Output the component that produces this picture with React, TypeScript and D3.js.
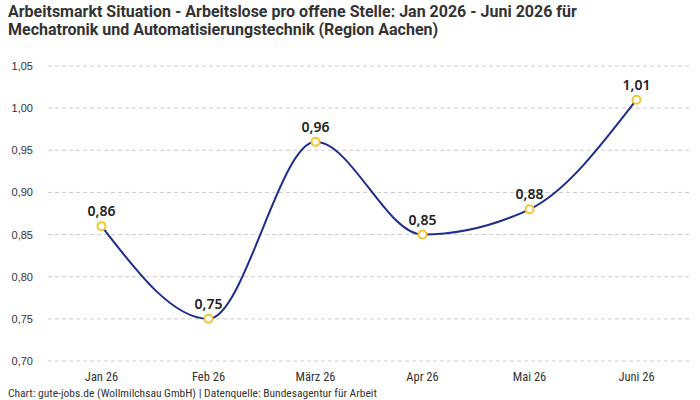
import React, { useEffect, useRef } from 'react';
import * as d3 from 'd3';

const months = ['Jan 26', 'Feb 26', 'März 26', 'Apr 26', 'Mai 26', 'Juni 26'];
const values = [0.86, 0.75, 0.96, 0.85, 0.88, 1.01];
const yTicks = [0.7, 0.75, 0.8, 0.85, 0.9, 0.95, 1.0, 1.05];

const width = 700;
const height = 400;

const fmt = (v: number, d: number) => v.toFixed(d).replace('.', ',');

const App: React.FC = () => {
  const svgRef = useRef<SVGSVGElement>(null);

  useEffect(() => {
    if (!svgRef.current) return;
    const svg = d3.select(svgRef.current);
    svg.selectAll('*').remove();

    const x = d3.scalePoint<string>()
      .domain(months)
      .range([48, 690])
      .padding(0.5);

    const y = d3.scaleLinear()
      .domain([0.7, 1.05])
      .range([361, 66]);

    // Title
    const title = svg.append('text')
      .attr('x', 8)
      .style('font-family', 'Roboto, "Noto Sans", sans-serif')
      .style('font-size', '16px')
      .style('font-weight', 'bold')
      .style('fill', '#333');
    title.append('tspan').attr('x', 8).attr('y', 17)
      .text('Arbeitsmarkt Situation - Arbeitslose pro offene Stelle: Jan 2026 - Juni 2026 für');
    title.append('tspan').attr('x', 8).attr('y', 35)
      .text('Mechatronik und Automatisierungstechnik (Region Aachen)');

    // Grid lines
    svg.append('g')
      .selectAll('line')
      .data(yTicks)
      .join('line')
      .attr('x1', 48)
      .attr('x2', 690)
      .attr('y1', d => y(d))
      .attr('y2', d => y(d))
      .attr('stroke', '#ccc')
      .attr('stroke-dasharray', '4,3');

    // Y labels
    svg.append('g')
      .selectAll('text')
      .data(yTicks)
      .join('text')
      .attr('x', 33)
      .attr('y', d => y(d) + 4)
      .attr('text-anchor', 'end')
      .style('font-family', '"Liberation Sans", Arial, sans-serif')
      .style('font-size', '11px')
      .style('fill', '#333')
      .text(d => fmt(d, 2));

    // X labels
    svg.append('g')
      .selectAll('text')
      .data(months)
      .join('text')
      .attr('x', d => x(d) || 0)
      .attr('y', 381)
      .attr('text-anchor', 'middle')
      .style('font-family', 'Roboto, sans-serif')
      .style('font-stretch', 'condensed')
      .style('font-size', '12.5px')
      .style('fill', '#333')
      .text(d => d);

    // Line
    const line = d3.line<number>()
      .x((_, i) => x(months[i]) || 0)
      .y(d => y(d))
      .curve(d3.curveMonotoneX);

    svg.append('path')
      .datum(values)
      .attr('d', line)
      .attr('fill', 'none')
      .attr('stroke', '#1f2d8c')
      .attr('stroke-width', 2);

    // Points
    svg.append('g')
      .selectAll('circle')
      .data(values)
      .join('circle')
      .attr('cx', (_, i) => x(months[i]) || 0)
      .attr('cy', d => y(d))
      .attr('r', 4)
      .attr('fill', '#fff')
      .attr('stroke', '#f7c531')
      .attr('stroke-width', 2);

    // Value labels
    svg.append('g')
      .selectAll('text')
      .data(values)
      .join('text')
      .attr('x', (_, i) => x(months[i]) || 0)
      .attr('y', d => y(d) - 10)
      .attr('text-anchor', 'middle')
      .style('font-family', '"Noto Sans", sans-serif')
      .style('font-size', '14px')
      .style('font-weight', '600')
      .style('fill', '#222')
      .text(d => fmt(d, 2));

    // Footer
    svg.append('text')
      .attr('x', 8)
      .attr('y', 397)
      .style('font-family', 'Roboto, sans-serif')
      .style('font-stretch', 'condensed')
      .style('font-size', '11.5px')
      .style('fill', '#333')
      .text('Chart: gute-jobs.de (Wollmilchsau GmbH) | Datenquelle: Bundesagentur für Arbeit');
  }, []);

  return (
    <svg
      ref={svgRef}
      width={width}
      height={height}
      style={{ display: 'block', position: 'absolute', left: 0, top: 0, background: '#fff' }}
    />
  );
};

export default App;
